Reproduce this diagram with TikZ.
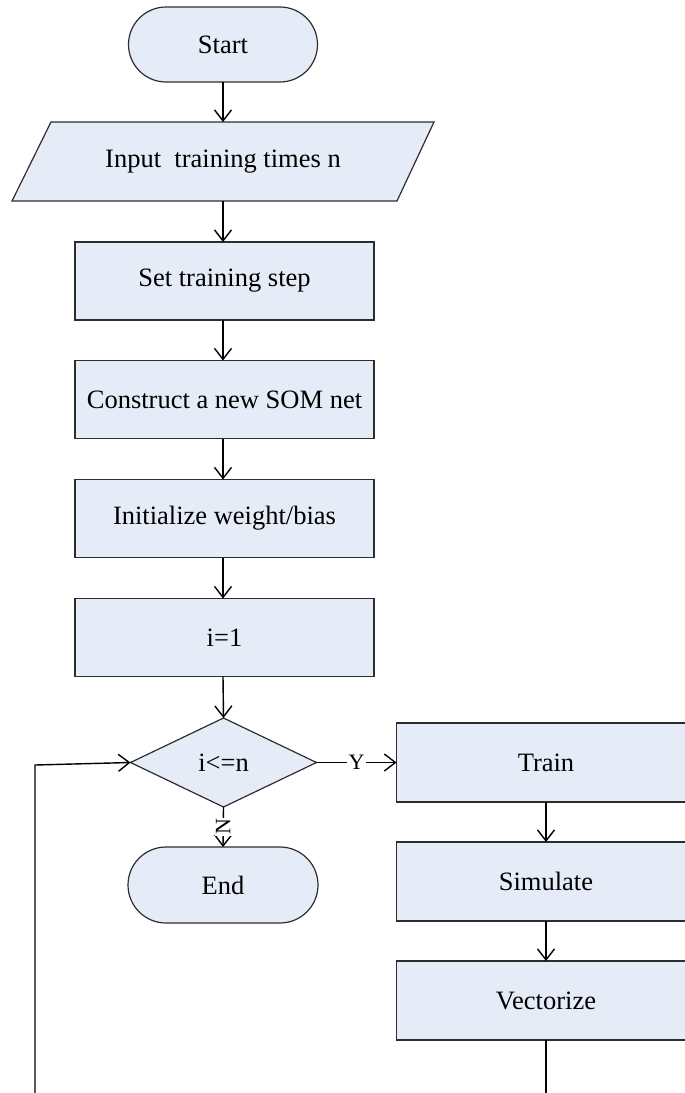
\documentclass[tikz,border=0pt]{standalone}
\usepackage{fontspec}
\setmainfont{Liberation Serif}
\usetikzlibrary{arrows.meta,shapes.geometric,shapes.misc}
\definecolor{boxfill}{RGB}{230,236,247}
\definecolor{boxline}{RGB}{45,45,45}
\begin{document}
\begin{tikzpicture}[x=1pt,y=-1pt,
  font=\fontsize{26.5}{30}\selectfont,
  every node/.style={inner sep=0pt, outer sep=0pt},
  proc/.style={draw=boxline, fill=boxfill, line width=1.2pt, minimum width=299pt, minimum height=78pt},
  term/.style={rounded rectangle, draw=boxline, fill=boxfill, line width=1.2pt, minimum width=189pt, minimum height=75pt},
  dec/.style={diamond, draw=boxline, fill=boxfill, line width=1.2pt, minimum width=186pt, minimum height=89pt},
  iobox/.style={minimum width=300pt, minimum height=79pt},
  arr/.style={-{Straight Barb[length=11pt,width=17pt]}, line width=1.4pt},
  conn/.style={line width=1.4pt},
  lab/.style={fill=white, font=\fontsize{22}{24}\selectfont, inner sep=1.5pt},
]
\path[use as bounding box] (0,0) rectangle (685,1093);
\clip (0,0) rectangle (685,1093);

% parallelogram outline
\filldraw[fill=boxfill, draw=boxline, line width=1.2pt]
  (51,122) -- (434,122) -- (397,201) -- (12,201) -- cycle;

\node[term] (start) at (223,44.5) {Start};
\node[iobox] (input) at (223,161.5) {Input\ \ training times n};
\node[proc] (set) at (224.5,281) {Set training step};
\node[proc] (cons) at (224.5,399.5) {Construct a new SOM net};
\node[proc] (init) at (224.5,518.5) {Initialize weight/bias};
\node[proc] (ione) at (224.5,637.5) {i=1};
\node[dec] (dia) at (223.5,762.5) {i<=n};
\node[term, minimum width=190pt, minimum height=76pt] (end) at (223,885) {End};
\node[proc, minimum height=79pt] (train) at (546,762.5) {Train};
\node[proc, minimum height=79pt] (sim) at (546,881.5) {Simulate};
\node[proc, minimum height=79pt] (vec) at (546,1000.5) {Vectorize};

\coordinate (vecend) at (546,1100);
\coordinate (loopstart) at (35,1100);
\coordinate (loopturn) at (35,765);

\draw[arr] (start.south) -- (start.south |- input.north);
\draw[arr] (input.south) -- (input.south |- set.north);
\draw[arr] (set.south -| input.south) -- (input.south |- cons.north);
\draw[arr] (cons.south -| input.south) -- (input.south |- init.north);
\draw[arr] (init.south -| input.south) -- (input.south |- ione.north);
\draw[arr] (ione.south -| input.south) -- (dia.north);
\draw[arr] (dia.east) -- node[lab] {Y} (train.west);
\draw[arr] (dia.south) -- node[lab, rotate=90] {N} (end.north);
\draw[arr] (train.south) -- (sim.north);
\draw[arr] (sim.south) -- (vec.north);
\draw[conn] (vec.south) -- (vecend);
\draw[arr] (loopstart) -- (loopturn) -- (dia.west);
\end{tikzpicture}
\end{document}
